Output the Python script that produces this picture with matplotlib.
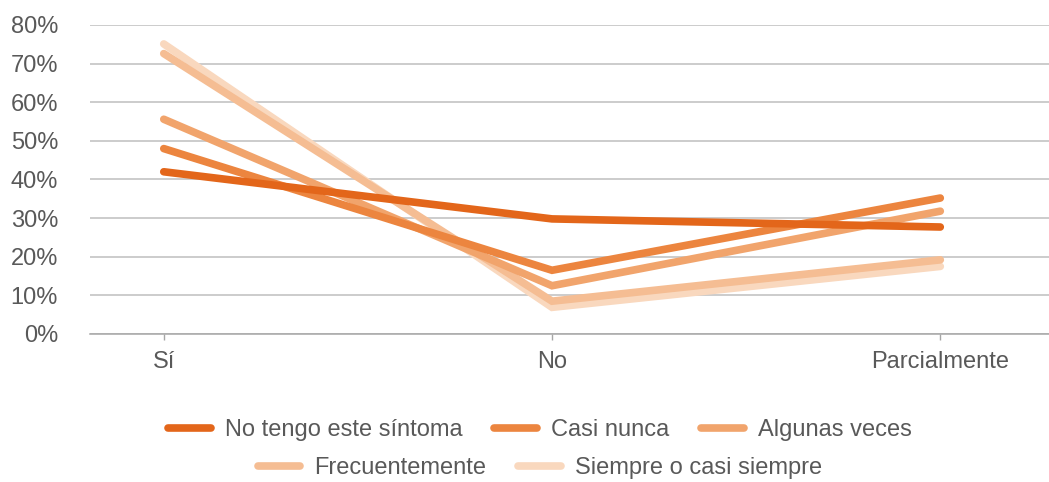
import matplotlib.pyplot as plt
from matplotlib.ticker import PercentFormatter

plt.rcParams['font.family'] = ['Liberation Sans', 'DejaVu Sans']

categories = ['Sí', 'No', 'Parcialmente']
series_names = ['No tengo este síntoma', 'Casi nunca', 'Algunas veces',
                'Frecuentemente', 'Siempre o casi siempre']
no_tengo = [42.0, 29.8, 27.7]
casi_nunca = [48.0, 16.5, 35.2]
algunas_veces = [55.6, 12.5, 31.8]
frecuentemente = [72.6, 8.5, 19.2]
siempre = [75.1, 6.9, 17.5]
colors = ['#E3661A', '#EC853F', '#F1A46C', '#F5BD93', '#F9D8BE']

text_color = '#595959'
grid_color = '#BFBFBF'

fig = plt.figure(figsize=(10.49, 4.82), dpi=100)
ax = fig.add_axes([90 / 1049, 1 - 334 / 482, 1 - 90 / 1049, (334 - 25) / 482])

x = range(len(categories))
lines = []
for name, vals, col in zip(series_names,
                           [no_tengo, casi_nunca, algunas_veces, frecuentemente, siempre],
                           colors):
    ln, = ax.plot(x, vals, color=col, lw=5.5, solid_capstyle='round',
                  solid_joinstyle='miter', label=name)
    lines.append(ln)

# darker series drawn on top, like the original
for i, ln in enumerate(lines):
    ln.set_zorder(10 - i)

ax.set_xlim(-0.19, 2.28)
ax.set_ylim(0, 80)
ax.set_yticks(range(0, 81, 10))
ax.yaxis.set_major_formatter(PercentFormatter(decimals=0))
ax.set_xticks(list(x))
ax.set_xticklabels(categories)

ax.grid(axis='y', color=grid_color, lw=1.1)
ax.set_axisbelow(True)
for side in ['top', 'right', 'left']:
    ax.spines[side].set_visible(False)
ax.spines['bottom'].set_color('#A6A6A6')
ax.spines['bottom'].set_linewidth(1.1)

ax.tick_params(axis='y', length=0, pad=23, labelsize=17, labelcolor=text_color)
ax.tick_params(axis='x', length=4.5, width=1, color='#A6A6A6', pad=8,
               labelsize=17, labelcolor=text_color)

leg_kw = dict(frameon=False, fontsize=17, handlelength=1.8, handletextpad=0.6,
              columnspacing=1.35, labelcolor=text_color, borderpad=0, borderaxespad=0)
leg1 = fig.legend(lines[:3], series_names[:3], loc='center', ncol=3,
                  bbox_to_anchor=(540 / 1049, 1 - 430 / 482), **leg_kw)
leg2 = fig.legend(lines[3:], series_names[3:], loc='center', ncol=2,
                  bbox_to_anchor=(540 / 1049, 1 - 468 / 482), **leg_kw)

fig.savefig('out.png', dpi=100)
